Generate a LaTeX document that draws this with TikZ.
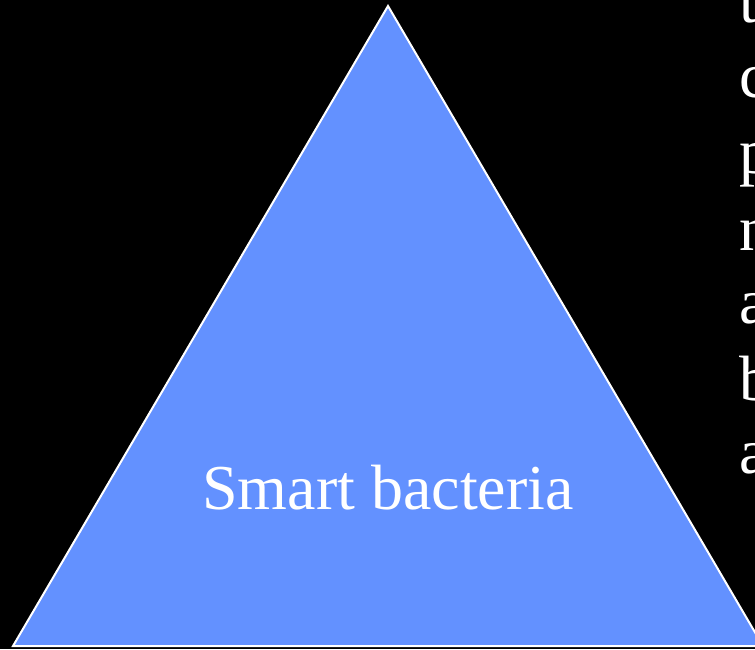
\documentclass[tikz,border=0pt]{standalone}
\usepackage{fontspec}
\setmainfont{Liberation Serif}
\definecolor{triblue}{RGB}{99,145,255}
\tikzset{
  lbl/.style={text=white, font=\fontsize{48}{48}\selectfont, inner sep=0pt, anchor=base},
  sidelbl/.style={lbl, anchor=base west},
  tri/.style={fill=triblue, draw=white, line width=1.5pt, line join=miter}
}
\begin{document}
\begin{tikzpicture}[x=0.75pt,y=-0.75pt]
\useasboundingbox (0,0) rectangle (755,649);
\clip (0,0) rectangle (755,649);
\fill[black] (0,0) rectangle (755,649);
\coordinate (apex) at (388,6);
\coordinate (bl) at (13,646);
\coordinate (br) at (763,646);
\draw[tri] (apex) -- (br) -- (bl) -- cycle;
\node[lbl] (main) at (388,509) {Smart bacteria};
\node[sidelbl] (s1) at (739,23) {t};
\node[sidelbl] (s2) at (739,98) {c};
\node[sidelbl] (s3) at (739,173) {p};
\node[sidelbl] (s4) at (739,250) {n};
\node[sidelbl] (s5) at (739,323) {a};
\node[sidelbl] (s6) at (739,400) {b};
\node[sidelbl] (s7) at (739,473) {a};
\end{tikzpicture}
\end{document}
